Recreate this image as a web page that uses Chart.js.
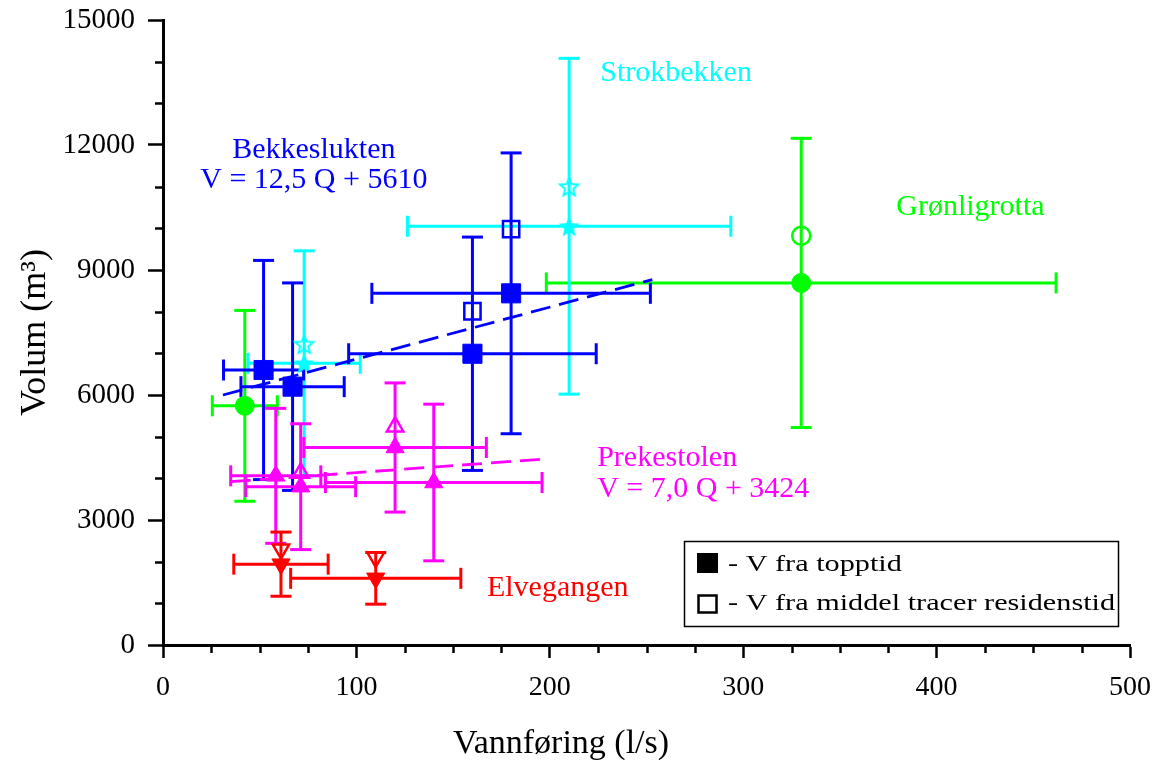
<!DOCTYPE html>
<html><head><meta charset="utf-8">
<script src="https://cdn.jsdelivr.net/npm/chart.js@4.4.1/dist/chart.umd.min.js"></script>
<style>html,body{margin:0;padding:0;background:#fff;}canvas{display:block;}</style>
</head><body>
<canvas id="c" width="1155" height="763"></canvas>
<script>
// ---------- data ----------
const xTickLabels = [0, 100, 200, 300, 400, 500];
const yTickLabels = [0, 3000, 6000, 9000, 12000, 15000];

// Bekkeslukten (blue squares)
const bekkQ = [52, 67, 160, 180];
const bekkV = [6600, 6200, 6990, 8440];
const bekkQerr = [20.7, 26.7, 64, 72];
const bekkVerr = [2630, 2490, 2800, 3370];
const bekkOpenQ = [160, 180];
const bekkOpenV = [8010, 9980];
const bekkFitQ = [31, 253];
const bekkFitV = [6000, 8770];

// Strokbekken (cyan stars)
const strokQ = [73, 210];
const strokV = [6760, 10050];
const strokQerr = [29, 83.6];
const strokVerr = [2700, 4030];
const strokOpenQ = [73, 210];
const strokOpenV = [7220, 11000];

// Grønligrotta (green circles)
const gronQ = [42.3, 330];
const gronV = [5740, 8690];
const gronQerr = [16.8, 131.8];
const gronVerr = [2290, 3470];
const gronOpenQ = [330];
const gronOpenV = [9820];

// Prekestolen (magenta up-triangles)
const prekQ = [58.3, 71.2, 120, 140];
const prekV = [4060, 3800, 4740, 3900];
const prekQerr = [23.3, 28.4, 47.2, 56];
const prekVerr = [1620, 1510, 1550, 1880];
const prekOpenQ = [71.2, 120];
const prekOpenV = [4130, 5240];
const prekFitQ = [35, 196.5];
const prekFitV = [3920, 4460];

// Elvegangen (red down-triangles)
const elveQ = [61, 110];
const elveV = [1940, 1600];
const elveQerr = [24.4, 44];
const elveVerr = [770, 620];
const elveOpenQ = [61, 110];
const elveOpenV = [2300, 2100];

// colours
const BLUE = '#0000ff', CYAN = '#00ffff', GREEN = '#00ff00', MAGENTA = '#ff00ff', RED = '#ff0000';
const FONT = "'Liberation Serif', 'Times New Roman', serif";

// annotation labels (anchored in data coordinates)
const labels = [
  {text: 'Strokbekken', q: 265.3, v: 13720, color: CYAN, align: 'center'},
  {text: 'Bekkeslukten', q: 78, v: 11880, color: BLUE, align: 'center'},
  {text: 'V = 12,5 Q + 5610', q: 78, v: 11160, color: BLUE, align: 'center'},
  {text: 'Grønligrotta', q: 417.5, v: 10520, color: GREEN, align: 'center'},
  {text: 'Prekestolen', q: 224.5, v: 4490, color: MAGENTA, align: 'left'},
  {text: 'V = 7,0 Q + 3424', q: 224.5, v: 3740, color: MAGENTA, align: 'left'},
  {text: 'Elvegangen', q: 167.5, v: 1360, color: RED, align: 'left'}
];

function pts(qs, vs) { return qs.map((q, i) => ({x: q, y: vs[i]})); }

function makeStar(r, filled, color) {
  const lw = 2;
  const s = Math.ceil(2 * r + lw + 4);
  const c = document.createElement('canvas');
  c.width = s; c.height = s;
  const g = c.getContext('2d');
  g.translate(s / 2, s / 2 + r * 0.09);
  g.beginPath();
  for (let k = 0; k < 10; k++) {
    const rr = (k % 2) ? r * 0.45 : r;
    const a = -Math.PI / 2 + k * Math.PI / 5;
    g.lineTo(rr * Math.cos(a), rr * Math.sin(a));
  }
  g.closePath();
  if (filled) { g.fillStyle = color; g.fill(); }
  else { g.strokeStyle = color; g.lineWidth = lw; g.lineJoin = 'miter'; g.stroke(); }
  return c;
}
const starFilled = makeStar(11, true, CYAN);
const starOpen = makeStar(9.5, false, CYAN);

const errorGroups = [
  {color: GREEN, q: gronQ, v: gronV, qe: gronQerr, ve: gronVerr},
  {color: CYAN, q: strokQ, v: strokV, qe: strokQerr, ve: strokVerr},
  {color: BLUE, q: bekkQ, v: bekkV, qe: bekkQerr, ve: bekkVerr},
  {color: MAGENTA, q: prekQ, v: prekV, qe: prekQerr, ve: prekVerr},
  {color: RED, q: elveQ, v: elveV, qe: elveQerr, ve: elveVerr}
];

const errorBarPlugin = {
  id: 'errorBars',
  beforeDatasetsDraw(chart) {
    const {ctx, scales: {x, y}} = chart;
    const cap = 10.5;
    ctx.save();
    ctx.lineWidth = 3;
    ctx.lineCap = 'butt';
    const seg = (a, b, c, d) => { ctx.beginPath(); ctx.moveTo(a, b); ctx.lineTo(c, d); ctx.stroke(); };
    for (const g of errorGroups) {
      ctx.strokeStyle = g.color;
      for (let i = 0; i < g.q.length; i++) {
        const px = x.getPixelForValue(g.q[i]);
        const py = y.getPixelForValue(g.v[i]);
        const x0 = x.getPixelForValue(g.q[i] - g.qe[i]);
        const x1 = x.getPixelForValue(g.q[i] + g.qe[i]);
        const y0 = y.getPixelForValue(g.v[i] - g.ve[i]);
        const y1 = y.getPixelForValue(g.v[i] + g.ve[i]);
        seg(x0, py, x1, py);
        seg(x0, py - cap, x0, py + cap);
        seg(x1, py - cap, x1, py + cap);
        seg(px, y0, px, y1);
        seg(px - cap, y0, px + cap, y0);
        seg(px - cap, y1, px + cap, y1);
      }
    }
    ctx.restore();
  }
};

const decorPlugin = {
  id: 'decor',
  afterDraw(chart) {
    const {ctx, scales: {x, y}, chartArea} = chart;
    ctx.save();
    // minor ticks
    ctx.strokeStyle = '#000';
    ctx.lineWidth = 2.5;
    for (let q = 0; q <= 500; q += 25) {
      if (xTickLabels.includes(q)) continue;
      const px = Math.round(x.getPixelForValue(q)) + 0.5;
      ctx.beginPath(); ctx.moveTo(px, chartArea.bottom); ctx.lineTo(px, chartArea.bottom + 8); ctx.stroke();
    }
    for (let v = 0; v <= 15000; v += 1000) {
      if (yTickLabels.includes(v)) continue;
      const py = Math.round(y.getPixelForValue(v)) + 0.5;
      ctx.beginPath(); ctx.moveTo(chartArea.left - 8, py); ctx.lineTo(chartArea.left, py); ctx.stroke();
    }
    // annotation labels
    ctx.font = '30px ' + FONT;
    ctx.textBaseline = 'middle';
    for (const l of labels) {
      ctx.fillStyle = l.color;
      ctx.textAlign = l.align;
      ctx.fillText(l.text, x.getPixelForValue(l.q), y.getPixelForValue(l.v));
    }
    // x axis title
    ctx.fillStyle = '#000';
    ctx.font = '34px ' + FONT;
    ctx.textAlign = 'center';
    ctx.textBaseline = 'alphabetic';
    ctx.fillText('Vannføring (l/s)', 561, 753);
    // legend box
    ctx.lineWidth = 1.5;
    ctx.strokeRect(684.5, 541.5, 434, 85);
    ctx.fillStyle = '#000';
    ctx.fillRect(697, 553, 21, 20);
    ctx.lineWidth = 2.5;
    ctx.strokeRect(698.5, 595.5, 18, 17);
    ctx.textAlign = 'left';
    ctx.textBaseline = 'middle';
    ctx.font = '24px ' + FONT;
    ctx.save(); ctx.translate(728, 565); ctx.scale(1.26, 1); ctx.fillText('- V fra topptid', 0, 0); ctx.restore();
    ctx.save(); ctx.translate(728, 604); ctx.scale(1.26, 1); ctx.fillText('- V fra middel tracer residenstid', 0, 0); ctx.restore();
    ctx.restore();
  }
};

const fitStyle = {type: 'line', showLine: true, pointRadius: 0, borderWidth: 2.8, borderDash: [20, 9], fill: false};

new Chart(document.getElementById('c'), {
  type: 'scatter',
  data: {
    datasets: [
      {label: 'Bekkeslukten fit', data: pts(bekkFitQ, bekkFitV), borderColor: BLUE, ...fitStyle},
      {label: 'Prekestolen fit', data: pts(prekFitQ, prekFitV), borderColor: MAGENTA, ...fitStyle},
      {label: 'Bekkeslukten', data: pts(bekkQ, bekkV), pointStyle: 'rect', pointRadius: 13.5, backgroundColor: BLUE, borderColor: BLUE, borderWidth: 1},
      {label: 'Bekkeslukten middel', data: pts(bekkOpenQ, bekkOpenV), pointStyle: 'rect', pointRadius: 11.5, backgroundColor: 'rgba(0,0,0,0)', borderColor: BLUE, borderWidth: 2.5},
      {label: 'Strokbekken', data: pts(strokQ, strokV), pointStyle: starFilled, pointRadius: 9},
      {label: 'Strokbekken middel', data: pts(strokOpenQ, strokOpenV), pointStyle: starOpen, pointRadius: 9},
      {label: 'Grønligrotta', data: pts(gronQ, gronV), pointStyle: 'circle', pointRadius: 9.5, backgroundColor: GREEN, borderColor: GREEN, borderWidth: 1},
      {label: 'Grønligrotta middel', data: pts(gronOpenQ, gronOpenV), pointStyle: 'circle', pointRadius: 9, backgroundColor: 'rgba(0,0,0,0)', borderColor: GREEN, borderWidth: 2.5},
      {label: 'Prekestolen', data: pts(prekQ, prekV), pointStyle: 'triangle', pointRadius: 10.5, backgroundColor: MAGENTA, borderColor: MAGENTA, borderWidth: 1},
      {label: 'Prekestolen middel', data: pts(prekOpenQ, prekOpenV), pointStyle: 'triangle', pointRadius: 9.5, backgroundColor: 'rgba(0,0,0,0)', borderColor: MAGENTA, borderWidth: 2.5},
      {label: 'Elvegangen', data: pts(elveQ, elveV), pointStyle: 'triangle', rotation: 180, pointRotation: 180, pointRadius: 10.5, backgroundColor: RED, borderColor: RED, borderWidth: 1},
      {label: 'Elvegangen middel', data: pts(elveOpenQ, elveOpenV), pointStyle: 'triangle', rotation: 180, pointRotation: 180, pointRadius: 9.5, backgroundColor: 'rgba(0,0,0,0)', borderColor: RED, borderWidth: 2.5}
    ]
  },
  options: {
    responsive: false,
    animation: false,
    devicePixelRatio: 1,
    layout: {padding: {top: 20, right: 25, left: 0, bottom: 0}},
    plugins: {legend: {display: false}, tooltip: {enabled: false}},
    scales: {
      x: {
        type: 'linear', min: 0, max: 500,
        afterFit(s) { s.height = 118; s.paddingLeft = 0; s.paddingRight = 0; },
        border: {display: true, color: '#000', width: 3},
        grid: {drawOnChartArea: false, drawTicks: true, tickLength: 13, tickWidth: 2.5,
          tickColor: (c) => (c.tick && xTickLabels.includes(c.tick.value)) ? '#000' : 'rgba(0,0,0,0)'},
        ticks: {stepSize: 25, autoSkip: false, maxRotation: 0, padding: 13, color: '#000',
          font: {family: FONT, size: 28},
          callback: (v) => xTickLabels.includes(v) ? String(v) : ''}
      },
      y: {
        type: 'linear', min: 0, max: 15000,
        afterFit(s) { s.width = 163; s.paddingTop = 0; s.paddingBottom = 0; },
        border: {display: true, color: '#000', width: 3},
        grid: {drawOnChartArea: false, drawTicks: true, tickLength: 15, tickWidth: 2.5,
          tickColor: (c) => (c.tick && yTickLabels.includes(c.tick.value)) ? '#000' : 'rgba(0,0,0,0)'},
        ticks: {stepSize: 1000, autoSkip: false, padding: 13, color: '#000',
          font: {family: FONT, size: 29},
          callback: (v) => yTickLabels.includes(v) ? String(v) : ''},
        title: {display: true, text: 'Volum (m³)', color: '#000', padding: {top: 14, bottom: 0},
          font: {family: FONT, size: 36, lineHeight: 1.2}}
      }
    }
  },
  plugins: [errorBarPlugin, decorPlugin]
});
</script>
</body></html>
